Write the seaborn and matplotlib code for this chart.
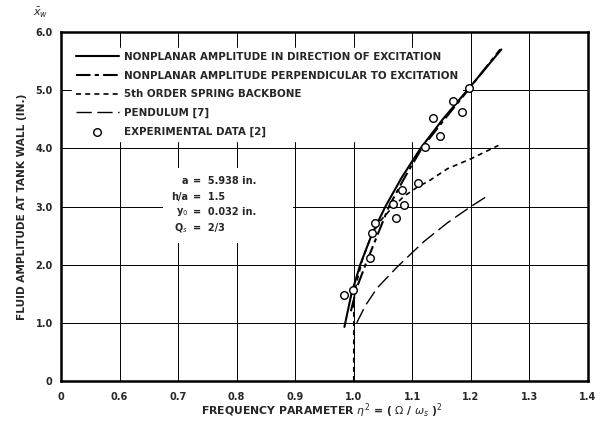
import pandas as pd
import matplotlib.pyplot as plt
import seaborn as sns
from matplotlib.patches import Rectangle

# Values
solid_x = [0.984, 0.996, 1.011, 1.030, 1.054, 1.082, 1.114, 1.152, 1.194, 1.252]
solid_y = [0.93, 1.50, 2.00, 2.50, 3.00, 3.50, 4.00, 4.50, 5.00, 5.70]

perp_x = [0.995, 1.005, 1.020, 1.040, 1.060, 1.087, 1.116, 1.155, 1.195, 1.250]
perp_y = [1.20, 1.60, 2.00, 2.50, 3.00, 3.50, 4.00, 4.50, 5.00, 5.70]

spring_x = [1.000, 1.000, 1.005, 1.015, 1.030, 1.045, 1.062, 1.085, 1.108, 1.130, 1.160, 1.200, 1.247]
spring_y = [0.00, 1.40, 1.70, 2.10, 2.50, 2.75, 2.94, 3.17, 3.33, 3.45, 3.65, 3.82, 4.05]

pend_x = [1.005, 1.020, 1.040, 1.074, 1.120, 1.160, 1.200, 1.228]
pend_y = [1.00, 1.30, 1.60, 1.96, 2.40, 2.72, 3.00, 3.18]

exp_x = [0.984, 0.999, 1.027, 1.031, 1.037, 1.072, 1.067, 1.085, 1.082, 1.110,
         1.121, 1.148, 1.136, 1.169, 1.185, 1.196]
exp_y = [1.48, 1.56, 2.12, 2.54, 2.71, 2.81, 3.05, 3.03, 3.29, 3.41,
         4.03, 4.22, 4.52, 4.82, 4.62, 5.04]

x_ticks = [0.5, 0.6, 0.7, 0.8, 0.9, 1.0, 1.1, 1.2, 1.3, 1.4]
x_tick_labels = ["0", "0.6", "0.7", "0.8", "0.9", "1.0", "1.1", "1.2", "1.3", "1.4"]
y_ticks = [0, 1, 2, 3, 4, 5, 6]
y_tick_labels = ["0", "1.0", "2.0", "3.0", "4.0", "5.0", "6.0"]

labels = ["NONPLANAR AMPLITUDE IN DIRECTION OF EXCITATION",
          "NONPLANAR AMPLITUDE PERPENDICULAR TO EXCITATION",
          "5th ORDER SPRING BACKBONE",
          "PENDULUM [7]",
          "EXPERIMENTAL DATA [2]"]

sns.set_style("white")
plt.rcParams["font.family"] = ["DejaVu Sans"]

fig = plt.figure(figsize=(6.06, 4.25), dpi=100)
ax = fig.add_axes([0.1007, 0.1035, 0.8696, 0.8212])

# grid
ax.set_axisbelow(True)
ax.grid(True, color="black", linewidth=0.7)

sns.lineplot(x=solid_x, y=solid_y, sort=False, estimator=None, ax=ax,
             color="black", linewidth=1.5, label=labels[0], zorder=3)
sns.lineplot(x=perp_x, y=perp_y, sort=False, estimator=None, ax=ax,
             color="black", linewidth=1.5, linestyle=(0, (7, 2, 2, 2)),
             label=labels[1], zorder=3)
sns.lineplot(x=spring_x, y=spring_y, sort=False, estimator=None, ax=ax,
             color="black", linewidth=1.2, linestyle=(0, (3, 2.5)),
             label=labels[2], zorder=3)
sns.lineplot(x=pend_x, y=pend_y, sort=False, estimator=None, ax=ax,
             color="black", linewidth=1.0, linestyle=(0, (11, 4)),
             label=labels[3], zorder=3)
sns.scatterplot(x=exp_x, y=exp_y, ax=ax, marker="o", s=30, color="white",
                edgecolor="black", linewidth=1.0, label=labels[4], zorder=4)

ax.set_xlim(0.5, 1.4)
ax.set_ylim(0, 6)
ax.set_xticks(x_ticks)
ax.set_xticklabels(x_tick_labels)
ax.set_yticks(y_ticks)
ax.set_yticklabels(y_tick_labels)
ax.tick_params(axis="both", direction="out", length=3, width=1, color="black",
               labelsize=7, pad=3)
ax.tick_params(axis="x", pad=5)
for lab in ax.get_xticklabels() + ax.get_yticklabels():
    lab.set_fontweight("bold")
for sp in ax.spines.values():
    sp.set_visible(True)
    sp.set_color("black")
    sp.set_linewidth(1.8)

leg = ax.legend(loc="upper left", bbox_to_anchor=(0.02, 0.955), borderaxespad=0,
                frameon=True, fancybox=False, framealpha=1, edgecolor="white",
                facecolor="white", prop={"size": 7.4, "weight": "bold"},
                handlelength=4.2, handletextpad=0.5, labelspacing=0.85,
                borderpad=0.4)
leg.set_zorder(2.5)

# parameter box
ax.add_patch(Rectangle((0.674, 2.37), 0.223, 1.29, facecolor="white",
                       edgecolor="none", zorder=2))
names = ["a", "h/a", "y$_0$", "Q$_s$"]
vals = ["=  5.938 in.", "=  1.5", "=  0.032 in.", "=  2/3"]
for i, (n, v) in enumerate(zip(names, vals)):
    yy = 3.44 - i * 0.27
    ax.text(0.717, yy, n, ha="right", va="center", fontsize=7,
            fontweight="bold", zorder=5)
    ax.text(0.725, yy, v, ha="left", va="center", fontsize=7,
            fontweight="bold", zorder=5)

fig.text(41 / 606, 1 - 13 / 425, r"$\bar{x}_w$", ha="center", va="center", fontsize=8)
fig.text(22 / 606, 1 - 207 / 425, "FLUID AMPLITUDE AT TANK WALL (IN.)",
         rotation=90, ha="center", va="center", fontsize=7.6, fontweight="bold")
fig.text(322 / 606, 1 - 411 / 425,
         r"FREQUENCY PARAMETER $\eta^2$ = ( $\Omega$ / $\omega_s$ )$^2$",
         ha="center", va="center", fontsize=7.8, fontweight="bold")

fig.savefig("out.png", dpi=100)
